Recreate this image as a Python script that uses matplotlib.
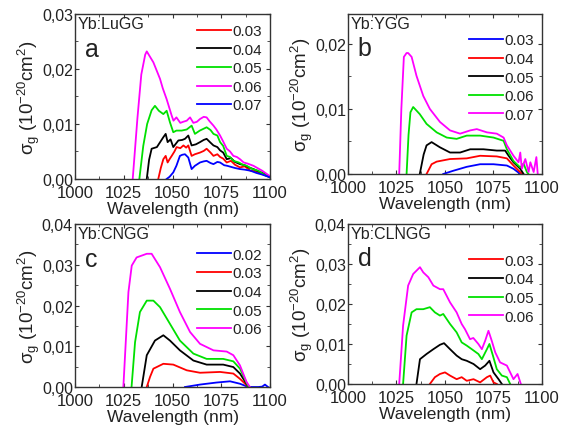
import matplotlib
matplotlib.use('Agg')
import matplotlib.pyplot as plt
from matplotlib.ticker import FuncFormatter, MultipleLocator

plt.rcParams['font.family'] = ['Liberation Sans', 'DejaVu Sans']
plt.rcParams['mathtext.fontset'] = 'custom'
plt.rcParams['mathtext.rm'] = 'Liberation Sans'
plt.rcParams['mathtext.it'] = 'Liberation Sans'
plt.rcParams['mathtext.sf'] = 'Liberation Sans'

TXT = '#222222'

# ---- panel a : Yb:LuGG ----
a_labels = ['0.03', '0.04', '0.05', '0.06', '0.07']
a_colors = ['red', 'black', '#00e000', 'magenta', 'blue']
a_x = [
    [1042.7, 1044.0, 1045.3, 1046.5, 1047.5, 1048.5, 1049.6, 1051.0, 1052.1, 1054.0, 1055.6, 1057.0, 1058.1, 1059.8,
     1061.5, 1064.1, 1066.0, 1067.5, 1069.5, 1071.0, 1073.0, 1074.4, 1076.0, 1077.8, 1080.0, 1082.0, 1084.6, 1087.0,
     1090.0, 1093.0, 1096.0, 1100.0],
    [1036.8, 1038.0, 1039.3, 1042.0, 1045.3, 1046.5, 1047.5, 1049.0, 1050.4, 1053.0, 1055.0, 1056.4, 1058.1, 1059.8,
     1062.0, 1064.1, 1066.0, 1067.5, 1069.5, 1071.0, 1073.0, 1074.4, 1076.0, 1077.8, 1080.0, 1082.0, 1084.6, 1087.0,
     1089.0, 1091.5, 1094.0, 1097.0, 1100.0],
    [1033.0, 1035.0, 1037.0, 1039.3, 1041.0, 1043.0, 1045.3, 1047.0, 1048.7, 1050.4, 1052.0, 1054.7, 1057.3, 1059.8,
     1061.5, 1064.0, 1067.5, 1069.5, 1071.0, 1073.0, 1074.4, 1076.0, 1077.8, 1079.5, 1081.2, 1084.0, 1086.0, 1088.0,
     1091.0, 1094.0, 1097.0, 1100.0],
    [1029.6, 1032.0, 1034.0, 1036.0, 1036.8, 1038.5, 1040.2, 1043.6, 1045.0, 1047.0, 1049.6, 1050.5, 1052.0, 1054.0,
     1055.5, 1057.3, 1059.0, 1060.7, 1062.5, 1064.1, 1066.0, 1067.5, 1069.0, 1071.0, 1072.5, 1074.4, 1076.0, 1077.8,
     1079.5, 1081.2, 1083.0, 1084.6, 1086.5, 1088.5, 1091.5, 1093.5, 1096.0, 1098.0, 1100.0],
    [1047.0, 1048.5, 1050.4, 1052.0, 1053.8, 1055.0, 1056.4, 1058.1, 1059.8, 1061.5, 1064.1, 1066.0, 1067.5, 1069.5,
     1071.0, 1073.0, 1074.4, 1076.5, 1078.0, 1080.0, 1082.0, 1084.6, 1087.0, 1090.0, 1093.0, 1096.0, 1100.0],
]
a_y = [
    [0.0, 0.0020, 0.0036, 0.0042, 0.0030, 0.0036, 0.0042, 0.0050, 0.0058, 0.0056, 0.0061, 0.0057, 0.0061, 0.0042,
     0.0045, 0.0048, 0.0051, 0.0055, 0.0048, 0.0042, 0.0045, 0.0040, 0.0037, 0.0030, 0.0033, 0.0026, 0.0021, 0.0023,
     0.0015, 0.0014, 0.0009, 0.0003],
    [0.0, 0.0035, 0.0055, 0.0058, 0.0076, 0.0082, 0.0067, 0.0072, 0.0058, 0.0070, 0.0071, 0.0073, 0.0079, 0.0061,
     0.0063, 0.0067, 0.0071, 0.0073, 0.0066, 0.0061, 0.0058, 0.0052, 0.0048, 0.0036, 0.0038, 0.0031, 0.0027, 0.0025,
     0.0021, 0.0018, 0.0014, 0.0010, 0.0003],
    [0.0, 0.0060, 0.0100, 0.0125, 0.0133, 0.0124, 0.0118, 0.0124, 0.0103, 0.0085, 0.0088, 0.0088, 0.0090, 0.0097,
     0.0082, 0.0088, 0.0094, 0.0089, 0.0082, 0.0079, 0.0067, 0.0060, 0.0042, 0.0040, 0.0033, 0.0030, 0.0026, 0.0024,
     0.0018, 0.0015, 0.0008, 0.0003],
    [0.0, 0.0110, 0.0190, 0.0226, 0.0232, 0.0222, 0.0212, 0.0182, 0.0165, 0.0145, 0.0115, 0.0106, 0.0112, 0.0102,
     0.0104, 0.0106, 0.0112, 0.0102, 0.0104, 0.0109, 0.0113, 0.0112, 0.0105, 0.0097, 0.0090, 0.0079, 0.0068, 0.0055,
     0.0050, 0.0042, 0.0040, 0.0036, 0.0030, 0.0028, 0.0024, 0.0020, 0.0015, 0.0010, 0.0005],
    [0.0, 0.0004, 0.0012, 0.0024, 0.0042, 0.0044, 0.0045, 0.0039, 0.0018, 0.0024, 0.0030, 0.0032, 0.0033, 0.0029,
     0.0027, 0.0031, 0.0030, 0.0025, 0.0024, 0.0022, 0.0020, 0.0018, 0.0017, 0.0015, 0.0011, 0.0008, 0.0003],
]

# ---- panel b : Yb:YGG ----
b_labels = ['0.03', '0.04', '0.05', '0.06', '0.07']
b_colors = ['blue', 'red', 'black', '#00e000', 'magenta']
b_x = [
    [1049.1, 1054.3, 1061.2, 1068.1, 1075.0, 1081.9, 1085.3, 1088.8],
    [1040.5, 1043.1, 1045.7, 1052.6, 1061.2, 1068.1, 1076.7, 1081.9, 1085.3, 1088.0, 1089.8],
    [1037.0, 1039.0, 1040.5, 1043.1, 1047.4, 1052.6, 1057.8, 1063.0, 1069.8, 1076.7, 1081.0, 1082.8, 1085.3, 1088.8,
     1090.5],
    [1030.2, 1031.2, 1032.2, 1033.6, 1037.0, 1040.5, 1045.7, 1050.9, 1056.0, 1061.2, 1068.1, 1075.0, 1080.2, 1081.9,
     1085.3, 1088.8, 1090.5, 1092.2, 1093.0],
    [1026.4, 1027.5, 1028.8, 1030.2, 1031.0, 1032.8, 1035.3, 1038.8, 1042.2, 1047.4, 1052.6, 1057.8, 1063.0, 1066.4,
     1071.6, 1076.7, 1080.2, 1081.9, 1085.3, 1087.9, 1088.8, 1089.6, 1091.4, 1093.1, 1094.0, 1095.7, 1097.1, 1097.8],
]
b_y = [
    [0.0, 0.0005, 0.0011, 0.0015, 0.0015, 0.0013, 0.0008, 0.0],
    [0.0, 0.0015, 0.0019, 0.0023, 0.0024, 0.0028, 0.0027, 0.0024, 0.0013, 0.0005, 0.0],
    [0.0, 0.0030, 0.0044, 0.0049, 0.0041, 0.0033, 0.0033, 0.0038, 0.0038, 0.0036, 0.0036, 0.0028, 0.0018, 0.0008,
     0.0],
    [0.0, 0.0060, 0.0095, 0.0103, 0.0092, 0.0077, 0.0064, 0.0056, 0.0054, 0.0059, 0.0059, 0.0056, 0.0051, 0.0038,
     0.0020, 0.0010, 0.0016, 0.0003, 0.0],
    [0.0, 0.0100, 0.0180, 0.0186, 0.0186, 0.0180, 0.0151, 0.0120, 0.0100, 0.0080, 0.0067, 0.0062, 0.0067, 0.0069,
     0.0064, 0.0062, 0.0056, 0.0044, 0.0028, 0.0018, 0.0033, 0.0008, 0.0023, 0.0003, 0.0018, 0.0003, 0.0026, 0.0],
]

# ---- panel c : Yb:CNGG ----
c_labels = ['0.02', '0.03', '0.04', '0.05', '0.06']
c_colors = ['blue', 'red', 'black', '#00e000', 'magenta']
c_x = [
    [1056.4, 1064.1, 1072.6, 1079.5, 1084.6, 1088.9, 1094.0, 1096.0, 1097.4, 1099.0],
    [1036.8, 1038.5, 1040.2, 1045.3, 1050.4, 1057.3, 1064.1, 1074.4, 1081.2, 1084.6, 1089.0],
    [1034.2, 1036.8, 1041.0, 1045.3, 1048.7, 1053.8, 1060.7, 1067.5, 1076.0, 1081.2, 1084.6, 1089.0],
    [1029.0, 1030.8, 1033.3, 1036.8, 1040.2, 1043.6, 1048.7, 1053.8, 1060.7, 1067.5, 1076.0, 1081.2, 1084.6, 1089.0],
    [1024.8, 1027.4, 1029.1, 1031.6, 1036.8, 1039.3, 1043.6, 1048.7, 1053.8, 1059.0, 1064.1, 1071.0, 1077.8, 1081.2,
     1084.6, 1088.0, 1089.7],
]
c_y = [
    [0.0, 0.0006, 0.0011, 0.0014, 0.0008, 0.0, 0.0, 0.0001, 0.0006, 0.0],
    [0.0, 0.0025, 0.0045, 0.0057, 0.0055, 0.0041, 0.0035, 0.0037, 0.0033, 0.0020, 0.0],
    [0.0, 0.0078, 0.0114, 0.0127, 0.0114, 0.0090, 0.0065, 0.0055, 0.0055, 0.0049, 0.0033, 0.0],
    [0.0, 0.0110, 0.0184, 0.0212, 0.0212, 0.0196, 0.0155, 0.0114, 0.0082, 0.0069, 0.0069, 0.0063, 0.0045, 0.0],
    [0.0, 0.0233, 0.0298, 0.0318, 0.0327, 0.0327, 0.0294, 0.0241, 0.0184, 0.0135, 0.0106, 0.0090, 0.0087, 0.0078,
     0.0053, 0.0012, 0.0],
]

# ---- panel d : Yb:CLNGG ----
d_labels = ['0.03', '0.04', '0.05', '0.06']
d_colors = ['red', 'black', '#00e000', 'magenta']
d_x = [
    [1042.2, 1044.8, 1047.4, 1050.0, 1052.6, 1056.0, 1058.6, 1061.2, 1064.7, 1068.1, 1071.6, 1073.3, 1075.0, 1076.7],
    [1035.3, 1037.1, 1040.5, 1044.0, 1047.4, 1049.5, 1052.6, 1056.0, 1058.6, 1061.2, 1064.7, 1068.1, 1070.7, 1072.9,
     1075.0, 1077.6, 1079.3],
    [1028.4, 1030.2, 1032.8, 1035.3, 1038.8, 1042.2, 1044.8, 1047.4, 1049.1, 1052.6, 1056.0, 1058.6, 1061.2, 1063.8,
     1067.2, 1069.0, 1071.6, 1072.9, 1074.7, 1076.7, 1079.3, 1081.9, 1083.6],
    [1026.4, 1028.4, 1031.0, 1033.6, 1037.1, 1038.8, 1041.4, 1044.0, 1047.4, 1049.1, 1052.6, 1056.0, 1058.6, 1060.3,
     1062.9, 1064.6, 1067.2, 1069.0, 1070.7, 1072.4, 1074.1, 1075.9, 1078.4, 1081.9, 1083.6, 1085.3, 1087.4, 1089.1],
]
d_y = [
    [0.0, 0.0017, 0.0025, 0.0029, 0.0021, 0.0012, 0.0017, 0.0008, 0.0012, 0.0004, 0.0017, 0.0021, 0.0004, 0.0],
    [0.0, 0.0062, 0.0075, 0.0087, 0.0098, 0.0102, 0.0087, 0.0071, 0.0062, 0.0058, 0.0050, 0.0037, 0.0046, 0.0058,
     0.0029, 0.0012, 0.0],
    [0.0, 0.0121, 0.0179, 0.0187, 0.0187, 0.0192, 0.0179, 0.0171, 0.0175, 0.0150, 0.0129, 0.0104, 0.0096, 0.0087,
     0.0075, 0.0062, 0.0087, 0.0100, 0.0071, 0.0037, 0.0021, 0.0017, 0.0],
    [0.0, 0.0146, 0.0246, 0.0275, 0.0292, 0.0279, 0.0267, 0.0246, 0.0237, 0.0237, 0.0204, 0.0179, 0.0150, 0.0137,
     0.0112, 0.0115, 0.0100, 0.0087, 0.0108, 0.0133, 0.0108, 0.0079, 0.0054, 0.0046, 0.0029, 0.0012, 0.0025, 0.0],
]

# letter, name, data, ylim top, axes rect, legend anchor y
panels = [
    ('a', 'Yb:LuGG', a_x, a_y, a_labels, a_colors, 0.03, [0.1332, 0.5785, 0.3464, 0.3864], 0.957),
    ('b', 'Yb:YGG', b_x, b_y, b_labels, b_colors, 0.0246, [0.6181, 0.5902, 0.3446, 0.3747], 0.8975),
    ('c', 'Yb:CNGG', c_x, c_y, c_labels, c_colors, 0.04, [0.1332, 0.0913, 0.3464, 0.3817], 0.873),
    ('d', 'Yb:CLNGG', d_x, d_y, d_labels, d_colors, 0.04, [0.6181, 0.0984, 0.3446, 0.3747], 0.8325),
]


def comma(v, pos):
    return ('%.2f' % v).replace('.', ',')


fig = plt.figure(figsize=(5.63, 4.27), dpi=100)

for letter, name, xs, ys, labels, colors, ytop, rect, leg_y in panels:
    ax = fig.add_axes(rect)
    for x, y, lab, col in zip(xs, ys, labels, colors):
        ax.plot(x, y, color=col, lw=1.3, label=lab)
    ax.set_xlim(1000, 1100)
    ax.set_ylim(0, ytop)
    ax.xaxis.set_major_locator(MultipleLocator(25))
    ax.xaxis.set_minor_locator(MultipleLocator(12.5))
    ax.yaxis.set_major_locator(MultipleLocator(0.01))
    ax.yaxis.set_minor_locator(MultipleLocator(0.005))
    ax.yaxis.set_major_formatter(FuncFormatter(comma))
    ax.tick_params(which='both', direction='in', top=True, right=True, colors='#333333',
                   labelcolor=TXT)
    ax.tick_params(axis='x', pad=4.5, labelsize=12)
    ax.tick_params(axis='y', pad=1.5, labelsize=11.5)
    ax.tick_params(which='major', length=3)
    ax.tick_params(which='minor', length=2)
    for s in ax.spines.values():
        s.set_color('#333333')
        s.set_linewidth(1.0)
    ax.set_xlabel('Wavelength (nm)', fontsize=12.5, color=TXT, labelpad=0.8)
    ax.set_ylabel(r'$\sigma_g$ (10$^{-20}$cm$^2$)', fontsize=13.5, color=TXT, labelpad=0)
    ax.text(0.015, 0.99, name, transform=ax.transAxes, ha='left', va='top', fontsize=11.5, color=TXT)
    ax.text(0.05, 0.86, letter, transform=ax.transAxes, ha='left', va='top', fontsize=18, color=TXT)
    ax.legend(loc='upper right', frameon=False, fontsize=11, handlelength=2.2, handletextpad=0.1,
              labelspacing=0.3, borderaxespad=0.0, borderpad=0.2, labelcolor=TXT,
              bbox_to_anchor=(0.975, leg_y))

fig.savefig('out.png', dpi=100)
